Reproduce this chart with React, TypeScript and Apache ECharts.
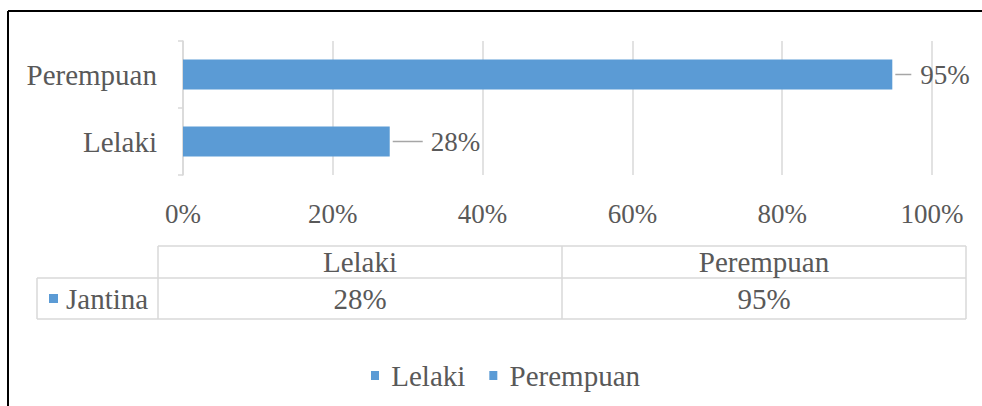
import React, { useEffect, useRef } from "react";
import * as echarts from "echarts";

const categories = ["Lelaki", "Perempuan"];
const values = [0.276, 0.947];
const tableRowLabel = "Jantina";
const axisMin = 0;
const axisMax = 1;
const axisInterval = 0.2;

const BLUE = "#5B9BD5";
const TEXT = "#595959";
const GRID = "#D9D9D9";
const FONT = "Liberation Serif";

const pct = (v: number) => Math.round(v * 100) + "%";

export default function App() {
  const ref = useRef<HTMLDivElement>(null);
  useEffect(() => {
    if (!ref.current) return;
    const chart = echarts.init(ref.current, undefined, { renderer: "svg" });

    const tLeft = 37, tHeadLeft = 158, tRight = 966, tTop = 246, tMid = 278, tBottom = 319;
    const colW = (tRight - tHeadLeft) / categories.length;
    const lineStyle = { stroke: GRID, lineWidth: 1.5 };
    const tableEls: any[] = [
      { type: "line", shape: { x1: tHeadLeft, y1: tTop, x2: tRight, y2: tTop }, style: lineStyle },
      { type: "line", shape: { x1: tLeft, y1: tMid, x2: tRight, y2: tMid }, style: lineStyle },
      { type: "line", shape: { x1: tLeft, y1: tBottom, x2: tRight, y2: tBottom }, style: lineStyle },
      { type: "line", shape: { x1: tLeft, y1: tMid, x2: tLeft, y2: tBottom }, style: lineStyle },
      { type: "line", shape: { x1: tRight, y1: tTop, x2: tRight, y2: tBottom }, style: lineStyle },
    ];
    for (let i = 0; i < categories.length; i++) {
      const x = tHeadLeft + colW * i;
      tableEls.push({ type: "line", shape: { x1: x, y1: tTop, x2: x, y2: tBottom }, style: lineStyle });
      const cx = x + colW / 2;
      tableEls.push({
        type: "text",
        x: cx,
        y: (tTop + tMid) / 2,
        style: { text: categories[i], fill: TEXT, font: `29px ${FONT}`, align: "center", verticalAlign: "middle" },
      });
      tableEls.push({
        type: "text",
        x: cx,
        y: (tMid + tBottom) / 2,
        style: { text: pct(values[i]), fill: TEXT, font: `29px ${FONT}`, align: "center", verticalAlign: "middle" },
      });
    }
    tableEls.push({ type: "rect", shape: { x: 49, y: 294, width: 9, height: 9 }, style: { fill: BLUE } });
    tableEls.push({
      type: "text",
      x: 66,
      y: (tMid + tBottom) / 2,
      style: { text: tableRowLabel, fill: TEXT, font: `29px ${FONT}`, align: "left", verticalAlign: "middle" },
    });

    const series = categories.map((name, i) => ({
      name,
      type: "bar",
      stack: "total",
      barWidth: 30,
      data: categories.map((_, j) => (j === i ? values[i] : "-")),
      itemStyle: { color: BLUE },
      label: {
        show: true,
        position: "right",
        distance: 3,
        formatter: (p: any) => "{l|}{v|" + pct(p.value) + "}",
        rich: {
          l: { width: i === 0 ? 30 : 16, height: 1.5, backgroundColor: "#A6A6A6" },
          v: { fontFamily: FONT, fontSize: 27, color: TEXT, padding: [0, 0, 0, i === 0 ? 8 : 9] },
        },
      },
    }));

    chart.setOption({
      animation: false,
      textStyle: { fontFamily: FONT },
      grid: { left: 183, right: 50, top: 41, bottom: 231, containLabel: false },
      xAxis: {
        type: "value",
        min: axisMin,
        max: axisMax,
        interval: axisInterval,
        axisLine: { show: false },
        axisTick: { show: false },
        splitLine: { lineStyle: { color: GRID, width: 1.5 } },
        axisLabel: { formatter: (v: number) => pct(v), margin: 25, fontSize: 27, color: TEXT, fontFamily: FONT },
      },
      yAxis: {
        type: "category",
        data: categories,
        axisLine: { lineStyle: { color: GRID, width: 1.5 } },
        axisTick: { show: true, length: 5, lineStyle: { color: GRID, width: 1.5 } },
        axisLabel: { fontSize: 29, color: TEXT, margin: 26, fontFamily: FONT },
      },
      legend: {
        data: categories,
        left: 366,
        top: 356,
        icon: "rect",
        itemWidth: 8,
        itemHeight: 9,
        itemGap: 24,
        formatter: (n: string) => " " + n,
        textStyle: { fontSize: 29, color: TEXT, fontFamily: FONT },
      },
      graphic: [
        { type: "line", shape: { x1: 8, y1: 11, x2: 982, y2: 11 }, style: { stroke: "#000", lineWidth: 2 } },
        { type: "line", shape: { x1: 8, y1: 11, x2: 8, y2: 406 }, style: { stroke: "#000", lineWidth: 2 } },
        ...tableEls,
      ],
      series,
    });
    return () => chart.dispose();
  }, []);
  return <div ref={ref} style={{ position: "absolute", left: 0, top: 0, width: 982, height: 406 }} />;
}
